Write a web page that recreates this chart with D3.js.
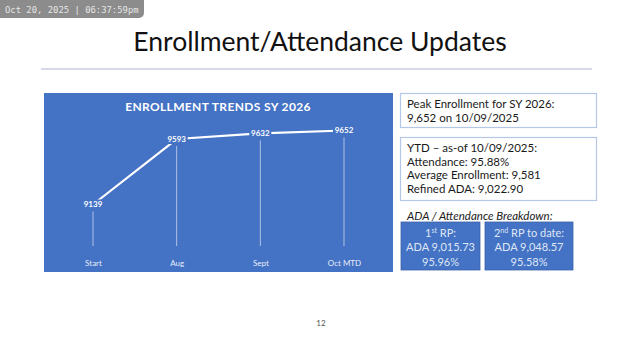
<!DOCTYPE html>
<html><head><meta charset="utf-8">
<script src="https://cdn.jsdelivr.net/npm/d3@7"></script>
<style>body{margin:0;background:#fff;}svg{display:block;}</style>
</head><body>
<svg id="c" width="640" height="360"></svg>
<script>
const categories = ["Start", "Aug", "Sept", "Oct MTD"];
const enrollment = [9139, 9593, 9632, 9652];
const chartTitle = "ENROLLMENT TRENDS SY 2026";
const pageTitle = "Enrollment/Attendance Updates";
const peakLines = ["Peak Enrollment for SY 2026:", "9,652 on 10/09/2025"];
const ytdLines = ["YTD \u2013 as-of 10/09/2025:", "Attendance: 95.88%", "Average Enrollment: 9,581", "Refined ADA: 9,022.90"];
const breakdownTitle = "ADA / Attendance Breakdown:";
const rpBoxes = [
  {ord: "1", sup: "st", rest: " RP:", ada: "ADA 9,015.73", pct: "95.96%"},
  {ord: "2", sup: "nd", rest: " RP to date:", ada: "ADA 9,048.57", pct: "95.58%"}
];

const svg = d3.select("#c");
const FONT = "Lato, 'Open Sans', sans-serif";
const BLUE = "#4472c4";

// timestamp badge
svg.append("rect").attr("x", -6).attr("y", -6).attr("width", 150).attr("height", 24).attr("rx", 5).attr("fill", "#8c8c8c");
svg.append("text").attr("x", 5).attr("y", 13).attr("font-family", "'DejaVu Sans Mono', monospace").attr("font-size", 8.9)
  .attr("fill", "#e6e6e6").text("Oct 20, 2025 | 06:37:59pm");

// page title
svg.append("text").attr("x", 320).attr("y", 51).attr("text-anchor", "middle").attr("font-family", FONT)
  .attr("font-size", 26.5).attr("fill", "#111").text(pageTitle);
svg.append("line").attr("x1", 41).attr("x2", 592).attr("y1", 69).attr("y2", 69).attr("stroke", "#c9cde3").attr("stroke-width", 1.5);

// chart panel
const panel = {x: 44, y: 93, w: 349, h: 179};
svg.append("rect").attr("x", panel.x).attr("y", panel.y).attr("width", panel.w).attr("height", panel.h).attr("fill", BLUE);
svg.append("text").attr("x", 218).attr("y", 111).attr("text-anchor", "middle").attr("font-family", FONT)
  .attr("font-weight", "bold").attr("font-size", 12).attr("letter-spacing", 0.35).attr("fill", "#fff").text(chartTitle);

const x = d3.scalePoint().domain(categories).range([93, 344]);
const y = d3.scaleLinear().domain([9139, 9652]).range([204.5, 130.5]);
const baseY = 246;

const g = svg.append("g");
// drop lines
g.selectAll("line.drop").data(enrollment).join("line").attr("class", "drop")
  .attr("x1", (d, i) => x(categories[i])).attr("x2", (d, i) => x(categories[i]))
  .attr("y1", d => y(d) + 7).attr("y2", baseY)
  .attr("stroke", "#bccbe9").attr("stroke-width", 0.9);
// line
const line = d3.line().x((d, i) => x(categories[i])).y(d => y(d));
g.append("path").datum(enrollment).attr("d", line).attr("fill", "none").attr("stroke", "#fff").attr("stroke-width", 2.2);
// labels with background
const lbl = g.selectAll("g.lbl").data(enrollment).join("g").attr("class", "lbl")
  .attr("transform", (d, i) => `translate(${x(categories[i])},${y(d)})`);
lbl.append("rect").attr("x", -11).attr("y", -5).attr("width", 22).attr("height", 10).attr("fill", BLUE);
lbl.append("text").attr("text-anchor", "middle").attr("dy", "0.35em").attr("font-family", FONT)
  .attr("font-weight", "bold").attr("font-size", 8).attr("fill", "#fff").text(d => d);
// category axis labels
const axis = d3.axisBottom(x).tickSize(0).tickPadding(0);
const ax = svg.append("g").attr("transform", `translate(0,${260})`).call(axis);
ax.select(".domain").remove();
ax.selectAll("text").attr("font-family", FONT).attr("font-size", 8).attr("fill", "#e8eefa");

// right boxes
function box(x0, y0, w, h, lines, y1, step) {
  svg.append("rect").attr("x", x0).attr("y", y0).attr("width", w).attr("height", h)
    .attr("fill", "#fff").attr("stroke", "#b4c7e7").attr("stroke-width", 1.2);
  lines.forEach((t, i) => svg.append("text").attr("x", 407).attr("y", y1 + i * step).attr("font-family", FONT)
    .attr("font-size", 11.5).attr("fill", "#1a1a1a").text(t));
}
box(400.5, 93.5, 196, 34, peakLines, 108, 13.5);
box(400.5, 137.5, 196, 63, ytdLines, 152, 13.7);

svg.append("text").attr("x", 407).attr("y", 220).attr("font-family", FONT).attr("font-style", "italic")
  .attr("font-size", 11.5).attr("fill", "#1a1a1a").text(breakdownTitle);

const bx = [{x: 401, w: 79}, {x: 485, w: 88}];
rpBoxes.forEach((b, i) => {
  const cx = bx[i].x + bx[i].w / 2;
  svg.append("rect").attr("x", bx[i].x).attr("y", 222).attr("width", bx[i].w).attr("height", 48).attr("fill", BLUE)
    .attr("stroke", "#3a62aa").attr("stroke-width", 0.8);
  const t1 = svg.append("text").attr("x", cx).attr("y", 237).attr("text-anchor", "middle").attr("font-family", FONT)
    .attr("font-size", 11).attr("fill", "#dfe7f6");
  t1.append("tspan").text(b.ord);
  t1.append("tspan").attr("font-size", 7).attr("dy", -4).text(b.sup);
  t1.append("tspan").attr("dy", 4).text(b.rest);
  svg.append("text").attr("x", cx).attr("y", 251).attr("text-anchor", "middle").attr("font-family", FONT)
    .attr("font-size", 11).attr("fill", "#dfe7f6").text(b.ada);
  svg.append("text").attr("x", cx).attr("y", 265.5).attr("text-anchor", "middle").attr("font-family", FONT)
    .attr("font-size", 11).attr("fill", "#dfe7f6").text(b.pct);
});

// page number
svg.append("text").attr("x", 321).attr("y", 326).attr("text-anchor", "middle").attr("font-family", FONT)
  .attr("font-size", 8).attr("fill", "#555").text("12");
</script>
</body></html>
